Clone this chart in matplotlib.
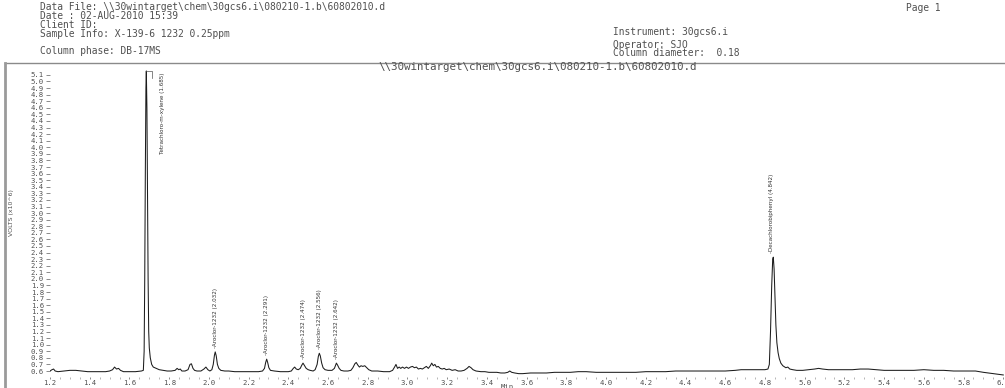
import matplotlib
matplotlib.use("Agg")
import matplotlib.pyplot as plt
from matplotlib.lines import Line2D
from matplotlib.ticker import MultipleLocator, FormatStrFormatter

# Chromatogram trace: retention time (min) and detector response (VOLTS x10^6)
time_min = [
    1.200, 1.210, 1.218, 1.226, 1.240, 1.270, 1.300, 1.330, 1.360, 1.390, 1.420, 1.450,
    1.480, 1.500, 1.515, 1.525, 1.535, 1.545, 1.555, 1.570, 1.600, 1.630, 1.660,
    1.670, 1.674, 1.677, 1.680, 1.683, 1.685, 1.688, 1.691, 1.694, 1.697, 1.700, 1.705,
    1.712, 1.720, 1.735, 1.750, 1.770, 1.790,
    1.810, 1.830, 1.840, 1.848, 1.856, 1.864, 1.880, 1.895, 1.905, 1.912, 1.920, 1.928,
    1.940, 1.960, 1.975, 1.985, 1.995, 2.005, 2.015,
    2.022, 2.028, 2.032, 2.037, 2.043, 2.050, 2.060, 2.080,
    2.100, 2.130, 2.160, 2.190, 2.220, 2.250, 2.270,
    2.280, 2.286, 2.291, 2.296, 2.302, 2.310, 2.330, 2.360, 2.380, 2.400,
    2.415, 2.425, 2.432, 2.440, 2.450, 2.460,
    2.468, 2.474, 2.480, 2.490, 2.500, 2.510, 2.525, 2.535,
    2.545, 2.551, 2.556, 2.561, 2.568, 2.575, 2.585, 2.600, 2.620, 2.632,
    2.637, 2.642, 2.648, 2.656, 2.665, 2.680, 2.700, 2.715, 2.725,
    2.735, 2.742, 2.750, 2.758, 2.766, 2.775, 2.785, 2.795, 2.805, 2.820, 2.850, 2.880,
    2.910, 2.925,
    2.935, 2.942, 2.950, 2.958, 2.966, 2.975, 2.985, 2.995, 3.005, 3.015, 3.025, 3.035,
    3.045, 3.055, 3.065, 3.075, 3.085, 3.095, 3.105, 3.115, 3.122, 3.130, 3.138, 3.146,
    3.155, 3.165, 3.175, 3.185, 3.195, 3.210, 3.225, 3.240, 3.255, 3.270, 3.285, 3.300,
    3.310, 3.320, 3.330, 3.345, 3.370, 3.390, 3.410, 3.430, 3.450, 3.470, 3.490, 3.505,
    3.515, 3.525, 3.540, 3.560, 3.580, 3.620, 3.660, 3.700, 3.740, 3.780, 3.820, 3.860,
    3.900, 3.950, 4.000, 4.050, 4.100, 4.150, 4.200, 4.250, 4.300, 4.350, 4.400, 4.450,
    4.500, 4.550, 4.600, 4.650, 4.680, 4.720, 4.760, 4.800, 4.815,
    4.822, 4.828, 4.834, 4.839, 4.842, 4.846, 4.850, 4.855, 4.860, 4.866, 4.872, 4.880,
    4.890, 4.905, 4.915, 4.925, 4.940, 4.960, 4.990, 5.020, 5.050, 5.070, 5.090, 5.120,
    5.160, 5.200, 5.240, 5.280, 5.320, 5.360, 5.400, 5.450, 5.500, 5.550, 5.600, 5.650,
    5.700, 5.750, 5.800, 5.860, 5.900, 5.950, 6.000,
]
response = [
    0.60, 0.62, 0.63, 0.60, 0.59, 0.60, 0.61, 0.61, 0.60, 0.59, 0.59, 0.59,
    0.59, 0.60, 0.62, 0.66, 0.63, 0.64, 0.61, 0.59, 0.59, 0.59, 0.60,
    0.61, 0.90, 2.00, 3.60, 4.90, 5.16, 4.60, 3.30, 2.00, 1.20, 0.95, 0.80,
    0.70, 0.66, 0.64, 0.62, 0.61, 0.60,
    0.60, 0.61, 0.64, 0.62, 0.63, 0.60, 0.60, 0.62, 0.70, 0.71, 0.64, 0.61,
    0.60, 0.60, 0.63, 0.66, 0.62, 0.60, 0.62,
    0.70, 0.84, 0.89, 0.83, 0.70, 0.64, 0.61, 0.60,
    0.60, 0.59, 0.59, 0.59, 0.59, 0.59, 0.60,
    0.64, 0.73, 0.78, 0.73, 0.65, 0.61, 0.60, 0.59, 0.59, 0.59,
    0.60, 0.64, 0.66, 0.63, 0.62, 0.64,
    0.69, 0.72, 0.69, 0.64, 0.62, 0.61, 0.60, 0.62,
    0.70, 0.82, 0.87, 0.83, 0.72, 0.65, 0.62, 0.61, 0.61, 0.64,
    0.68, 0.72, 0.69, 0.64, 0.61, 0.60, 0.60, 0.61, 0.65,
    0.71, 0.73, 0.69, 0.66, 0.68, 0.67, 0.68, 0.65, 0.62, 0.60, 0.60, 0.59,
    0.59, 0.61,
    0.66, 0.70, 0.64, 0.66, 0.64, 0.66, 0.64, 0.66, 0.64, 0.66, 0.67, 0.65,
    0.66, 0.63, 0.64, 0.63, 0.65, 0.67, 0.64, 0.68, 0.72, 0.68, 0.70, 0.66,
    0.67, 0.64, 0.63, 0.64, 0.62, 0.63, 0.61, 0.62, 0.60, 0.60, 0.61, 0.64,
    0.67, 0.65, 0.62, 0.60, 0.59, 0.59, 0.58, 0.58, 0.58, 0.57, 0.57, 0.58,
    0.60, 0.58, 0.57, 0.56, 0.56, 0.57, 0.57, 0.57, 0.58, 0.58, 0.58, 0.59,
    0.59, 0.58, 0.58, 0.58, 0.58, 0.58, 0.59, 0.59, 0.59, 0.60, 0.60, 0.60,
    0.60, 0.60, 0.60, 0.61, 0.62, 0.62, 0.62, 0.62, 0.63,
    0.70, 1.20, 1.90, 2.30, 2.33, 2.15, 1.75, 1.30, 1.03, 0.88, 0.79, 0.72,
    0.68, 0.65, 0.66, 0.63, 0.62, 0.61, 0.61, 0.62, 0.63, 0.64, 0.63, 0.62,
    0.62, 0.62, 0.62, 0.63, 0.63, 0.62, 0.61, 0.61, 0.61, 0.61, 0.62, 0.61,
    0.61, 0.60, 0.60, 0.60, 0.58, 0.56, 0.54,
]

# Identified peaks: name, retention time, apex response
peak_names = [
    "Tetrachloro-m-xylene", "Aroclor-1232", "Aroclor-1232", "Aroclor-1232",
    "Aroclor-1232", "Aroclor-1232", "Decachlorobiphenyl",
]
peak_rt = [1.685, 2.032, 2.291, 2.474, 2.556, 2.642, 4.842]
peak_height = [5.16, 0.89, 0.78, 0.72, 0.87, 0.72, 2.33]

y_ticks = [round(0.6 + 0.1 * i, 1) for i in range(46)]
x_ticks = [round(1.2 + 0.2 * i, 1) for i in range(25)]

header_left = [
    "Data File: \\\\30wintarget\\chem\\30gcs6.i\\080210-1.b\\60802010.d",
    "Date : 02-AUG-2010 15:39",
    "Client ID:",
    "Sample Info: X-139-6 1232 0.25ppm",
]
column_phase = "Column phase: DB-17MS"
header_right = ["Instrument: 30gcs6.i", "Operator: SJO", "Column diameter:  0.18"]
page_label = "Page 1"
plot_title = "\\\\30wintarget\\chem\\30gcs6.i\\080210-1.b\\60802010.d"

W, H = 1005, 388
MONO = "DejaVu Sans Mono"
GREY_TXT = "#505050"

fig = plt.figure(figsize=(W / 100, H / 100), dpi=100)


def fx(px):
    return px / W


def fy(py):
    return 1 - py / H


# report header
HDR = 6.9
for i, line in enumerate(header_left):
    fig.text(fx(40), fy(7 + 9 * i), line, family=MONO, fontsize=HDR,
             color=GREY_TXT, va="center", ha="left")
fig.text(fx(40), fy(51), column_phase, family=MONO, fontsize=HDR,
         color=GREY_TXT, va="center", ha="left")
for yy, line in zip([32, 45, 53], header_right):
    fig.text(fx(613), fy(yy), line, family=MONO, fontsize=HDR,
             color=GREY_TXT, va="center", ha="left")
fig.text(fx(906), fy(8), page_label, family=MONO, fontsize=HDR,
         color=GREY_TXT, va="center", ha="left")

# frame around the plot area
fig.add_artist(Line2D([fx(5), fx(1005)], [fy(63), fy(63)], color="#8a8a8a", lw=1.0))
fig.add_artist(Line2D([fx(5), fx(5)], [fy(63), fy(388)], color="#9a9a9a", lw=2.0))
fig.text(fx(538), fy(67), plot_title, family=MONO, fontsize=7.8,
         color=GREY_TXT, va="center", ha="center")

# chromatogram axes
ax = fig.add_axes([fx(50), fy(377), fx(1005 - 50), (377 - 69) / H])
ax.plot(time_min, response, color="#1c1c1c", lw=0.75)
ax.set_xlim(1.2, 1.2 + 955 / 198.6)
ax.set_ylim(0.509, 0.509 + 308 / 65.8)
for s in ax.spines.values():
    s.set_visible(False)
ax.set_yticks(y_ticks)
ax.yaxis.set_major_formatter(FormatStrFormatter("%.1f"))
ax.set_xticks(x_ticks)
ax.xaxis.set_major_formatter(FormatStrFormatter("%.1f"))
ax.xaxis.set_minor_locator(MultipleLocator(0.05))
ax.tick_params(axis="y", which="major", length=3, width=0.6, color="#777777",
               labelsize=5.2, labelcolor=GREY_TXT, pad=1.5)
ax.tick_params(axis="x", which="major", length=1.5, width=0.6, color="#777777",
               labelsize=5.2, labelcolor=GREY_TXT, pad=0.5)
ax.tick_params(axis="x", which="minor", length=1.5, width=0.5, color="#999999")
for lab in ax.get_xticklabels() + ax.get_yticklabels():
    lab.set_family(MONO)

fig.text(fx(507), fy(387), "Min", family=MONO, fontsize=5.2, color=GREY_TXT,
         ha="center", va="center")
fig.text(fx(11), fy(213), "VOLTS (x10^6)", fontsize=4.5, color=GREY_TXT,
         rotation=90, ha="center", va="center")

# peak annotations
for name, rt, h in zip(peak_names, peak_rt, peak_height):
    label = f"{name} ({rt:.3f})"
    if name.startswith("Tetrachloro"):
        x_lab = rt + 0.08
        ax.plot([rt, rt + 0.03, rt + 0.03], [h, h, h - 0.1], color="#555555", lw=0.5)
        ax.text(x_lab, h - 0.02, label, rotation=90, fontsize=4.1, color="#333333",
                ha="center", va="top")
    else:
        x_lab = rt - 0.01 if name.startswith("Decachloro") else rt
        ax.text(x_lab, h + 0.06, "-" + label, rotation=90, fontsize=4.1,
                color="#333333", ha="center", va="bottom")

fig.savefig("out.png", dpi=100)
